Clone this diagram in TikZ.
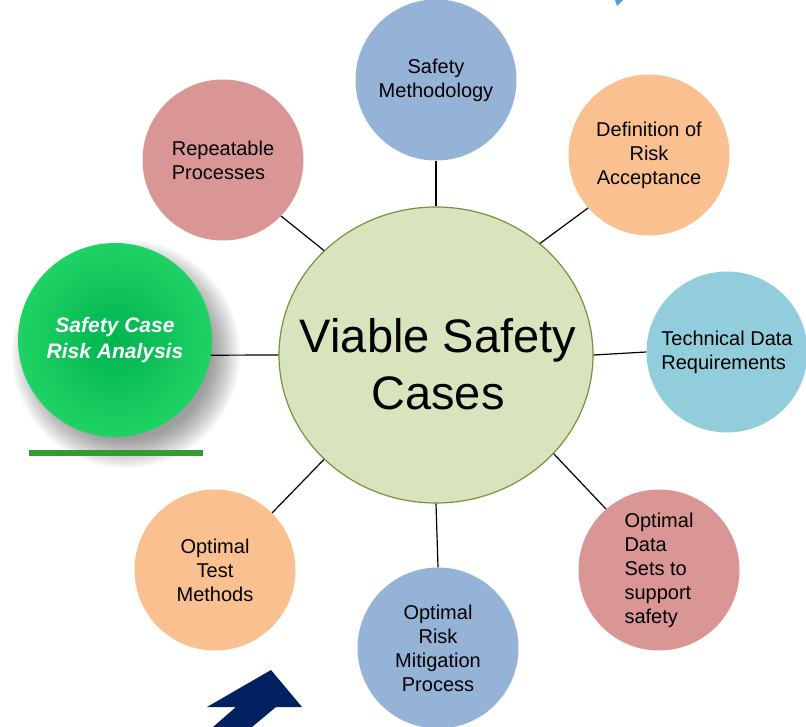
\documentclass[tikz,border=0pt]{standalone}
\usepackage{fontspec}
\setmainfont{Liberation Sans}
\usetikzlibrary{shapes.geometric}
\definecolor{cBlue}{HTML}{95B3D7}
\definecolor{cOrange}{HTML}{FAC090}
\definecolor{cCyan}{HTML}{92CDDC}
\definecolor{cRose}{HTML}{D99694}
\definecolor{cCenter}{HTML}{D7E4BD}
\definecolor{cBorder}{HTML}{77933C}
\definecolor{cGreenIn}{RGB}{0,180,80}
\definecolor{cGreenOut}{RGB}{30,210,100}
\definecolor{cGreenLine}{RGB}{50,155,50}
\definecolor{cNavy}{HTML}{002060}
\definecolor{cSky}{HTML}{4F9FD0}
\begin{document}
\begin{tikzpicture}[x=1pt,y=-1pt,
  sat/.style={circle, minimum size=161pt, inner sep=0pt, text=black,
    font=\fontsize{20}{24}\selectfont},
  link/.style={draw=black, line width=1.2pt}]
\useasboundingbox (0,0) rectangle (806,727);
% fragments at the edges
\fill[cSky] (615,0) -- (623,0) -- (617,6) -- cycle;
\fill[cNavy] (207,707) -- (271,670) -- (302,707) -- (276,707) -- (252,727)
  -- (213,727) -- (236,707) -- cycle;
% soft shadow of the green circle
\foreach \k in {0,...,14}{
  \pgfmathsetmacro\rr{114-2*\k}
  \fill[black, opacity=0.03] (126,354) circle (\rr pt);
}
% central ellipse
\node[ellipse, draw=cBorder, fill=cCenter, line width=1.2pt,
  minimum width=314pt, minimum height=296pt, inner sep=0pt] (c) at (436,355) {};
\node[align=center, font=\fontsize{47}{57}\selectfont] (ct) at (438,364) {Viable Safety\\Cases};
% satellites
\node[sat, fill=cBlue, align=center] (meth) at (436,80) {Safety\\Methodology};
\node[sat, fill=cOrange, align=center] (def) at (649,155) {Definition of\\Risk\\Acceptance};
\node[sat, fill=cCyan, align=left] (tech) at (727,352) {Technical Data\\Requirements};
\node[sat, fill=cRose, align=left] (data) at (659,570) {Optimal\\Data\\Sets to\\support\\safety};
\node[sat, fill=cBlue, align=center] (mit) at (438,648) {Optimal\\Risk\\Mitigation\\Process};
\node[sat, fill=cOrange, align=center] (test) at (215,570) {Optimal\\Test\\Methods};
\node[sat, fill=cRose, align=left] (rep) at (223,160) {Repeatable\\Processes};
% green circle
\node[circle, minimum size=194pt, inner sep=0pt, shading=radial,
  inner color=cGreenIn, outer color=cGreenOut, text=white, align=center,
  font=\fontsize{21}{26}\selectfont\bfseries\itshape] (risk) at (115,340)
  {Safety Case\\Risk Analysis};
\draw[cGreenLine, line width=6pt] (29,453) -- (203,453);
% connectors
\draw[link] (rep.-44) -- (c.137);
\draw[link] (meth.south) -- (c.north);
\draw[link] (def.221) -- (c.47);
\draw[link] (tech.west) -- (c.east);
\draw[link] (data.131) -- (c.-40);
\draw[link] (mit.north) -- (c.south);
\draw[link] (test.45) -- (c.223);
\draw[link] (risk.-9) -- (c.180);
\end{tikzpicture}
\end{document}
